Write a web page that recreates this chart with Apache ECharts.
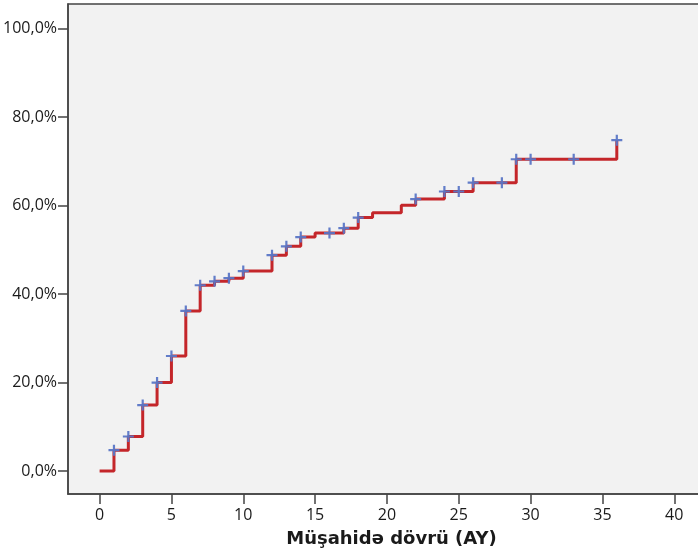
<!DOCTYPE html>
<html>
<head>
<meta charset="utf-8">
<script src="https://cdn.jsdelivr.net/npm/echarts@6/dist/echarts.min.js"></script>
<style>
  html, body { margin: 0; padding: 0; background: #ffffff; overflow: hidden; }
  /* the plot frame runs past the right edge of the window */
  #chart { width: 712px; height: 556px; }
</style>
</head>
<body>
<div id="chart"></div>
<script>
// Cumulative incidence (Kaplan-Meier step curve), follow-up in months
const eventTimes = [0, 1, 2, 3, 4, 5, 6, 7, 8, 9, 10, 12, 13, 14, 15, 17, 18, 19, 21, 22, 24, 26, 29, 36];
const cumulativePct = [0, 4.7, 7.8, 14.9, 20.0, 26.0, 36.2, 42.0, 42.9, 43.6, 45.2, 48.8, 50.8, 52.9, 53.8, 54.9, 57.3, 58.4, 60.1, 61.5, 63.2, 65.2, 70.5, 74.8];
// Censored observations (months)
const censorTimes = [1, 2, 3, 4, 5, 6, 7, 8, 9, 10, 12, 13, 14, 16, 17, 18, 22, 24, 25, 26, 28, 29, 30, 33, 36];
const xTicks = [0, 5, 10, 15, 20, 25, 30, 35, 40];
const yTicks = [0, 20, 40, 60, 80, 100];
const xTitle = 'Müşahidə dövrü (AY)';

// value of the step curve at time t
function curveAt(t) {
  let v = cumulativePct[0];
  for (let i = 0; i < eventTimes.length; i++) {
    if (eventTimes[i] <= t) v = cumulativePct[i];
  }
  return v;
}

const curveData = eventTimes.map((t, i) => [t, cumulativePct[i]]);
const censorData = censorTimes.map(t => [t, curveAt(t)]);

const axisColor = '#444444';
const labelFont = { fontFamily: 'Open Sans', fontSize: 16, color: '#1a1a1a' };

const chart = echarts.init(document.getElementById('chart'), null, { renderer: 'canvas' });
chart.setOption({
  animation: false,
  backgroundColor: '#ffffff',
  grid: {
    left: 68, top: 4, width: 635, height: 490,
    show: true,
    backgroundColor: '#f2f2f2',
    borderColor: axisColor,
    borderWidth: 1.5
  },
  xAxis: {
    type: 'value',
    min: -2.2, max: 42,
    splitLine: { show: false },
    axisLine: { show: true, onZero: false, lineStyle: { color: axisColor, width: 1.5 } },
    axisTick: { show: true, length: 10, customValues: xTicks, lineStyle: { color: axisColor, width: 1.5 } },
    axisLabel: Object.assign({ customValues: xTicks, margin: 13 }, labelFont),
    name: xTitle,
    nameLocation: 'middle',
    nameGap: 36,
    nameTextStyle: { fontFamily: 'DejaVu Sans', fontWeight: 'bold', fontSize: 18, color: '#1a1a1a', padding: [0, 0, 0, 12] }
  },
  yAxis: {
    type: 'value',
    min: -5.2, max: 105.6,
    splitLine: { show: false },
    axisLine: { show: true, onZero: false, lineStyle: { color: axisColor, width: 1.5 } },
    axisTick: { show: true, length: 10, customValues: yTicks, lineStyle: { color: axisColor, width: 1.5 } },
    axisLabel: Object.assign({
      customValues: yTicks, margin: 11,
      formatter: v => v.toFixed(1).replace('.', ',') + '%'
    }, labelFont)
  },
  series: [
    {
      type: 'line',
      step: 'end',
      data: curveData,
      symbol: 'none',
      lineStyle: { color: '#c4262a', width: 3 },
      z: 2
    },
    {
      type: 'scatter',
      data: censorData,
      symbol: 'path://M4,0H6V4H10V6H6V10H4V6H0V4H4Z',
      symbolSize: 11,
      itemStyle: { color: '#5a76c6', opacity: 0.95 },
      z: 3
    }
  ]
});
</script>
</body>
</html>
